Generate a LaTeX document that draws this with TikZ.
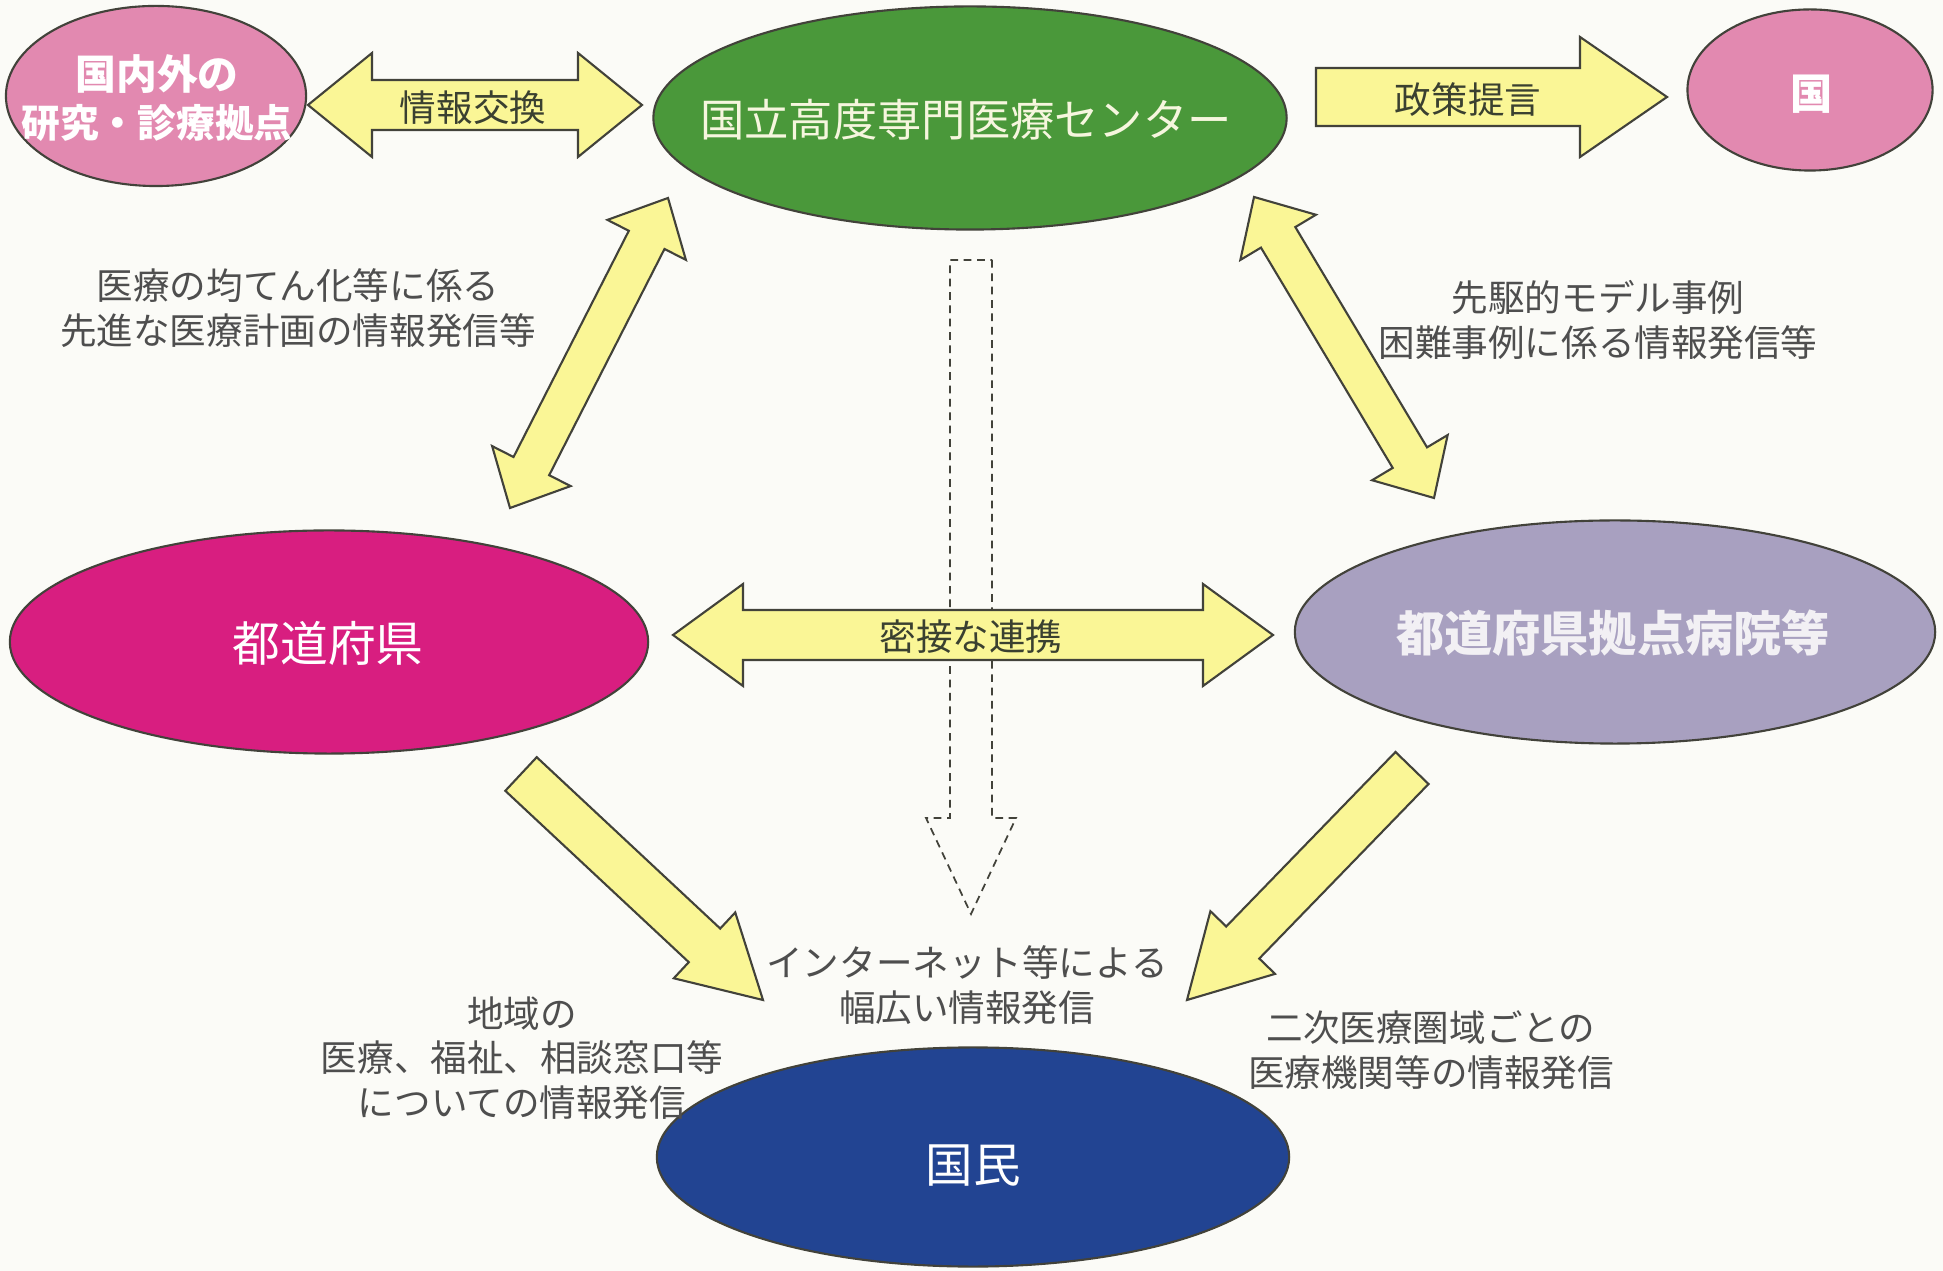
\documentclass[tikz,border=0pt]{standalone}
\usepackage{fontspec}
\newfontfamily\cjk{Noto Sans CJK JP}
\usetikzlibrary{calc,shapes.geometric}
\definecolor{bgc}{RGB}{251,251,247}
\definecolor{pinkc}{RGB}{226,137,176}
\definecolor{greenc}{RGB}{74,152,58}
\definecolor{magc}{RGB}{216,30,128}
\definecolor{lavc}{RGB}{168,160,192}
\definecolor{bluec}{RGB}{34,68,146}
\definecolor{yelc}{RGB}{250,246,150}
\definecolor{edgec}{RGB}{66,66,58}
\definecolor{labc}{RGB}{78,78,78}
\definecolor{arrtxt}{RGB}{58,64,48}
\newcommand{\dblarrow}[6]{%
\path[#1] (#2) -- ($(#2)!#6!(#3)!#5!90:(#3)$) -- ($(#2)!#6!(#3)!#4!90:(#3)$) -- ($(#3)!#6!(#2)!#4!90:(#3)$) -- ($(#3)!#6!(#2)!#5!90:(#3)$) -- (#3) -- ($(#3)!#6!(#2)!#5!-90:(#3)$) -- ($(#3)!#6!(#2)!#4!-90:(#3)$) -- ($(#2)!#6!(#3)!#4!-90:(#3)$) -- ($(#2)!#6!(#3)!#5!-90:(#3)$) -- cycle;}
\newcommand{\sglarrow}[6]{%
\path[#1] ($(#2)!#4!90:(#3)$) -- ($(#3)!#6!(#2)!#4!90:(#3)$) -- ($(#3)!#6!(#2)!#5!90:(#3)$) -- (#3) -- ($(#3)!#6!(#2)!#5!-90:(#3)$) -- ($(#3)!#6!(#2)!#4!-90:(#3)$) -- ($(#2)!#4!-90:(#3)$) -- cycle;}
\begin{document}
\begin{tikzpicture}[x=0.01cm,y=-0.01cm,
  ell/.style={ellipse,draw=edgec,line width=0.6pt,inner sep=0pt},
  etext/.style={font=\cjk\fontsize{#1}{#1}\selectfont,text=white,inner sep=0pt,align=center},
  lab/.style={font=\cjk\fontsize{10.4}{12.6}\selectfont,text=labc,align=center,inner sep=0pt},
  arrlab/.style={font=\cjk\fontsize{10.4}{12.6}\selectfont,text=arrtxt,inner sep=0pt},
  fat/.style={fill=yelc,draw=edgec,line width=0.6pt,line join=miter},
  dashfat/.style={draw=edgec,line width=0.5pt,dash pattern=on 2.2pt off 1.6pt}]
\path[fill=bgc] (0,0) rectangle (1943,1271);
% dashed arrow (behind)
\coordinate (dT) at (971,260);
\coordinate (dQ) at (971,914);
\sglarrow{dashfat}{dT}{dQ}{0.21cm}{0.45cm}{0.96cm}
% ellipses
\node[ell,fill=pinkc,minimum width=3.00cm,minimum height=1.80cm] (A) at (156,96) {};
\node[ell,fill=greenc,minimum width=6.33cm,minimum height=2.23cm] (B) at (970,118) {};
\node[ell,fill=pinkc,minimum width=2.45cm,minimum height=1.61cm] (C) at (1810,90) {};
\node[ell,fill=magc,minimum width=6.38cm,minimum height=2.23cm] (D) at (329,642) {};
\node[ell,fill=lavc,minimum width=6.40cm,minimum height=2.23cm] (E) at (1615,632) {};
\node[ell,fill=bluec,minimum width=6.32cm,minimum height=2.19cm] (F) at (973,1157) {};
\node[etext=11.4,font=\cjk\bfseries\fontsize{11}{13.8}\selectfont] (At) at (157,98) {{\fontsize{11.6}{13.8}\selectfont 国内外の}\\研究・診療拠点};
\node[etext=12.6,text={rgb,255:red,246;green,246;blue,222}] (Bt) at (966,120) {国立高度専門医療センター};
\node[etext=12,font=\cjk\bfseries\fontsize{12}{12}\selectfont] (Ct) at (1812,94) {国};
\node[etext=13.6] (Dt) at (328,643) {都道府県};
\node[etext=13.7,font=\cjk\bfseries\fontsize{13.7}{13.7}\selectfont,text={rgb,255:red,242;green,240;blue,244}] (Et) at (1613,633) {都道府県拠点病院等};
\node[etext=13.5] (Ft) at (973,1166) {国民};
% block arrows
\coordinate (a1) at (308,105); \coordinate (a2) at (642,105);
\dblarrow{fat}{a1}{a2}{0.25cm}{0.52cm}{0.64cm}
\coordinate (p1) at (1316,97); \coordinate (p2) at (1667,97);
\sglarrow{fat}{p1}{p2}{0.29cm}{0.60cm}{0.87cm}
\coordinate (l1) at (668,198); \coordinate (l2) at (510,508);
\dblarrow{fat}{l1}{l2}{0.20cm}{0.44cm}{0.47cm}
\coordinate (r1) at (1254,197); \coordinate (r2) at (1434,498);
\dblarrow{fat}{r1}{r2}{0.20cm}{0.44cm}{0.47cm}
\coordinate (m1) at (673,635); \coordinate (m2) at (1273,635);
\dblarrow{fat}{m1}{m2}{0.25cm}{0.51cm}{0.70cm}
\coordinate (s1) at (521,774); \coordinate (s2) at (763,1000);
\sglarrow{fat}{s1}{s2}{0.23cm}{0.45cm}{0.80cm}
\coordinate (t1) at (1412,768); \coordinate (t2) at (1187,1000);
\sglarrow{fat}{t1}{t2}{0.23cm}{0.45cm}{0.80cm}
% arrow labels
\node[arrlab] (x1) at (473,108) {情報交換};
\node[arrlab] (x2) at (1468,100) {政策提言};
\node[arrlab] (x3) at (971,637) {密接な連携};
% free labels
\node[lab] (L1) at (298,308) {医療の均てん化等に係る\\先進な医療計画の情報発信等};
\node[lab] (L2) at (1598,320) {先駆的モデル事例\\困難事例に係る情報発信等};
\node[lab] (L3) at (967,985) {インターネット等による\\幅広い情報発信};
\node[lab] (L4) at (522,1058) {地域の\\医療、福祉、相談窓口等\\についての情報発信};
\node[lab] (L5) at (1431,1050) {二次医療圏域ごとの\\医療機関等の情報発信};
\end{tikzpicture}
\end{document}
